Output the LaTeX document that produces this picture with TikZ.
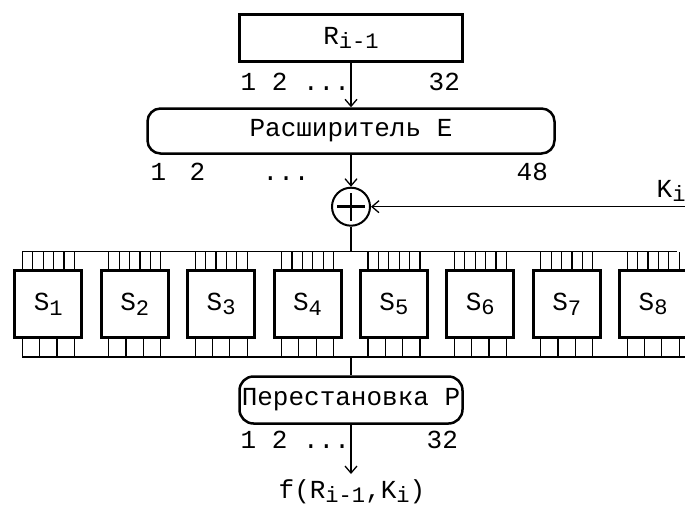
\documentclass[tikz,border=0pt]{standalone}
\usepackage{fontspec}
\setmainfont{Liberation Mono}
\usetikzlibrary{arrows.meta,positioning}
\newcommand\lowtxt[1]{\raisebox{-0.35ex}{\scalebox{0.85}{#1}}}

\begin{document}
\begin{tikzpicture}[x=1pt, y=-1pt, font=\fontsize{26}{30}\selectfont, line width=1.3pt,
                    arr/.style={-{Straight Barb[length=7pt, width=12pt]}},
                    sbox/.style={draw, line width=3pt, minimum width=67pt, minimum height=67pt, inner sep=0pt},
                    roundbox/.style={draw, line width=2.5pt, minimum width=223pt, minimum height=45pt, inner sep=1pt},
                    num/.style={anchor=base west, inner sep=0pt},
                    pin/.style={line width=1.2pt}]
                    \useasboundingbox (0,0) rectangle (685,506);
                    \node[draw, line width=3pt, minimum width=223pt, minimum height=47pt] (R) at (351,38) {R\lowtxt{i-1}};
                    \node[roundbox, rounded corners=13pt, minimum width=407pt] (E) at (351,131) {Расширитель E};
                    \node[circle, draw, line width=2pt, minimum size=38pt, inner sep=0pt] (xor) at (351,206.7) {};
                    \draw[line width=2.5pt] ([xshift=-14pt]xor.center) -- ([xshift=14pt]xor.center);
                    \draw[line width=2.5pt] ([yshift=-14pt]xor.center) -- ([yshift=14pt]xor.center);
                    \coordinate (kin) at (690,206.7);
                    \node[num] (ki) at (656,197) {K\lowtxt{i}};
                    \coordinate (tl) at (22.3,251.7); \coordinate (tr) at (676.7,251.7);
                    \coordinate (bl) at (22.3,357); \coordinate (br) at (690,357);
                    \foreach \i in {1,...,8} {
                        \node[sbox] (s\i) at ({48.3+86.4*(\i-1)},304) {S\lowtxt{\i}};
                        \foreach \d in {-26,-15.6,-5.2,5.2,15.6,26}
                            \draw[pin] ([xshift=\d pt]s\i.north) -- ([xshift=\d pt]s\i.north |- tl);
                        \foreach \d in {-26,-8.7,8.7,26}
                            \draw[pin] ([xshift=\d pt]s\i.south) -- ([xshift=\d pt]s\i.south |- bl);
                    }
                    \draw[pin] (tl) -- (tr); \draw[pin] (bl) -- (br);
                    \node[roundbox, rounded corners=14pt, minimum height=47pt] (P) at (351,400) {Перестановка P};
                    \coordinate (fout) at (351,474);
                    \node[anchor=base, inner sep=0pt] (f) at (352,498) {f(R\lowtxt{i-1},K\lowtxt{i})};
                    \node[num] (r1) at (240,90) {1 2 ...}; \node[num] (r2) at (428,90) {32};
                    \node[num] (e1) at (150,180) {1}; \node[num] (e2) at (189,180) {2};
                    \node[num] (e3) at (262,180) {...}; \node[num] (e4) at (516,180) {48};
                    \node[num] (p1) at (240,448) {1 2 ...}; \node[num] (p2) at (426,448) {32};
                    \draw[arr] (R) -- (E);
                    \draw[arr] (E) -- (xor);
                    \draw[arr] (kin) -- (xor);
                    \draw (xor) -- (xor |- tl);
                    \draw (P |- bl) -- (P);
                    \draw[arr] (P) -- (fout);
                \end{tikzpicture}
\end{document}
